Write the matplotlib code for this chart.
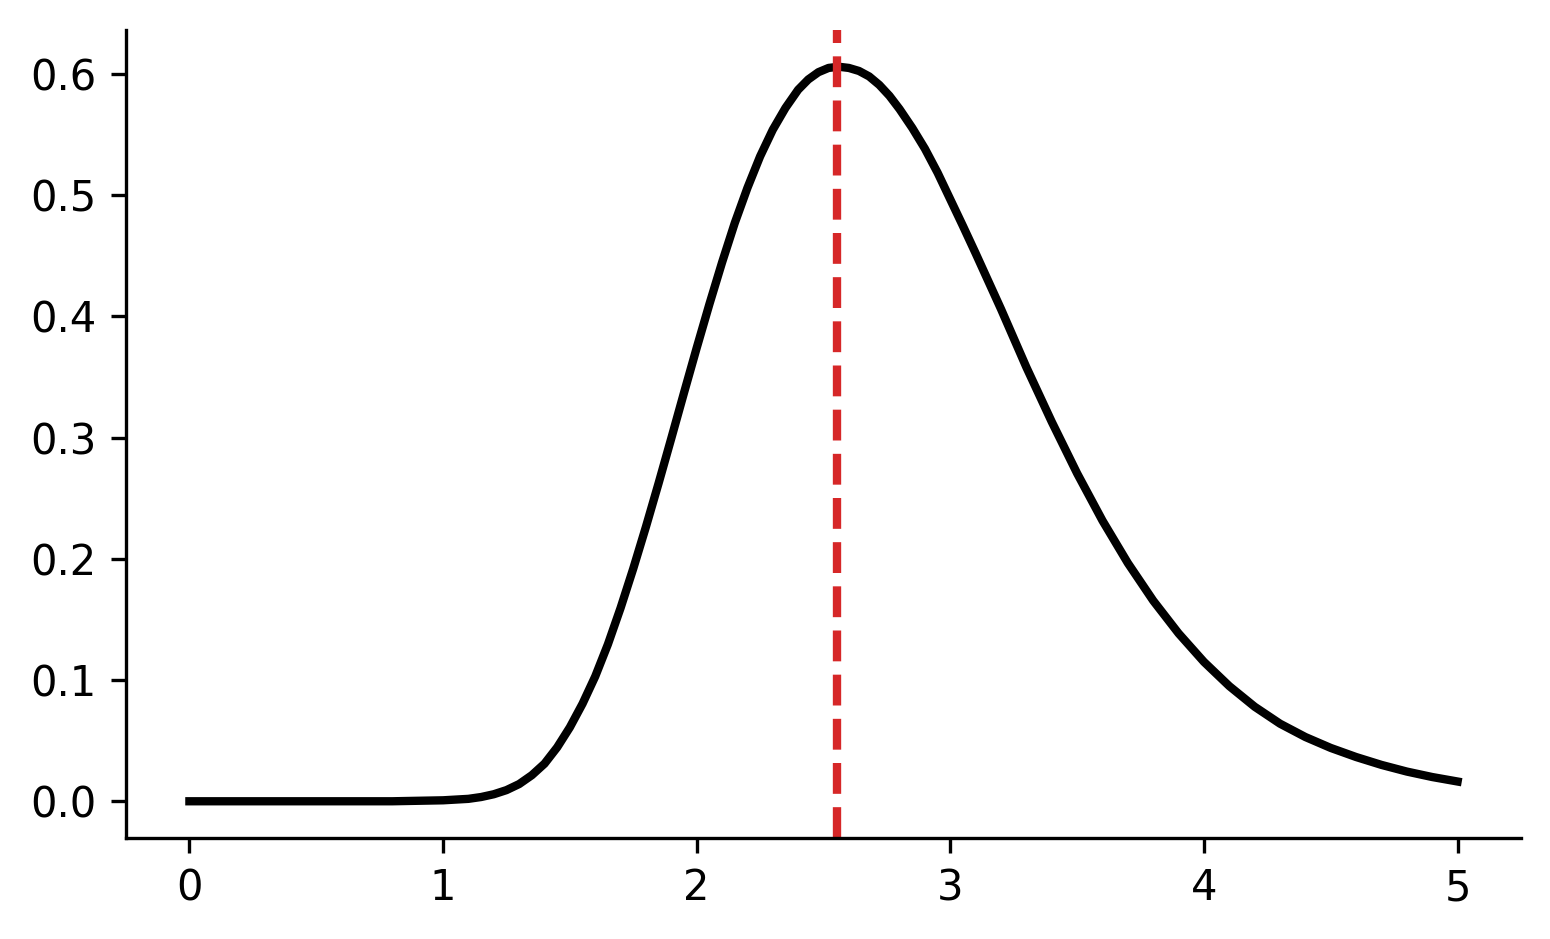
import matplotlib
matplotlib.use("Agg")
import matplotlib.pyplot as plt

# Values
x_vals = [0.0, 0.8, 1.0, 1.1, 1.15, 1.2, 1.25, 1.3, 1.35, 1.4, 1.45, 1.5, 1.55,
          1.6, 1.65, 1.7, 1.75, 1.8, 1.85, 1.9, 1.95, 2.0, 2.05, 2.1, 2.15, 2.2,
          2.25, 2.3, 2.35, 2.4, 2.44, 2.48, 2.52, 2.56, 2.6, 2.64, 2.68, 2.72,
          2.76, 2.8, 2.85, 2.9, 2.95, 3.0, 3.05, 3.1, 3.2, 3.3, 3.4, 3.5, 3.6,
          3.7, 3.8, 3.9, 4.0, 4.1, 4.2, 4.3, 4.4, 4.5, 4.6, 4.7, 4.8, 4.9, 5.0]
y_vals = [0.0, 0.0, 0.0008, 0.002, 0.0035, 0.0058, 0.0092, 0.0142, 0.0215, 0.031,
          0.0445, 0.061, 0.0805, 0.103, 0.1295, 0.1595, 0.192, 0.2265, 0.2625,
          0.2995, 0.337, 0.374, 0.41, 0.4445, 0.477, 0.506, 0.532, 0.554, 0.572,
          0.587, 0.5955, 0.6015, 0.605, 0.606, 0.605, 0.6025, 0.598, 0.591, 0.582,
          0.571, 0.5555, 0.5383, 0.5185, 0.4965, 0.4745, 0.452, 0.406, 0.358,
          0.313, 0.2705, 0.2315, 0.1965, 0.1655, 0.1385, 0.115, 0.095, 0.078,
          0.064, 0.053, 0.044, 0.0365, 0.030, 0.0245, 0.020, 0.0163]
peak_x = 2.553

fig = plt.figure(figsize=(1550 / 300, 939 / 300), dpi=300)
ax = fig.add_axes([126 / 1550, 101 / 939, (1521 - 126) / 1550, (838 - 30) / 939])
ax.plot(x_vals, y_vals, color="black", lw=2)
ax.axvline(peak_x, color="#d62728", lw=2, ls="--")
ax.spines["top"].set_visible(False)
ax.spines["right"].set_visible(False)
ax.set_xticks([0, 1, 2, 3, 4, 5])
ax.set_yticks([0.0, 0.1, 0.2, 0.3, 0.4, 0.5, 0.6])
fig.savefig("out.png", dpi=300)
